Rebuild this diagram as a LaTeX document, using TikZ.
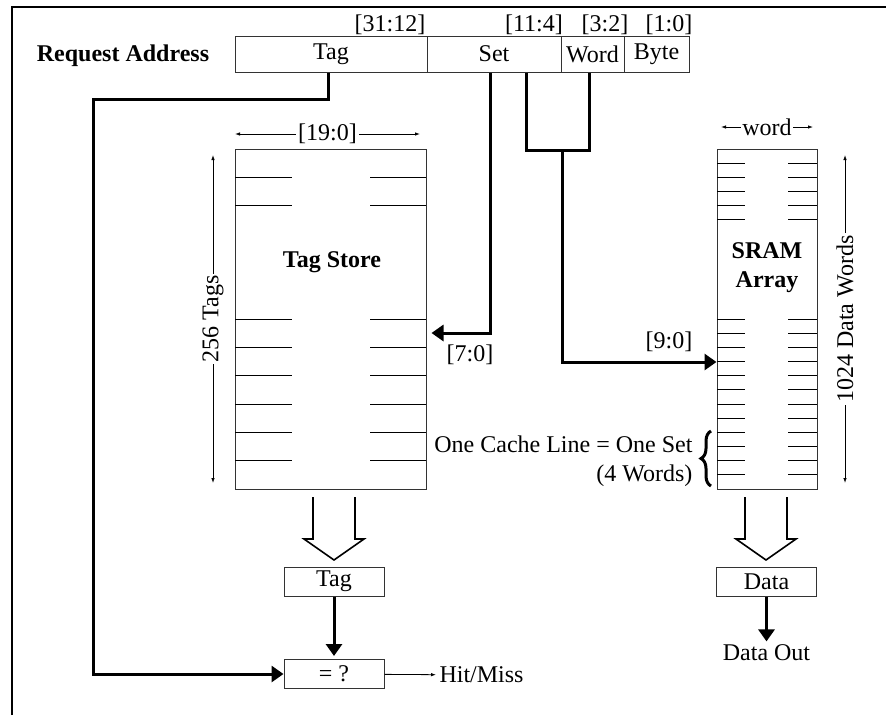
\documentclass[tikz,border=0pt]{standalone}
\usepackage{fontspec}
\setmainfont{Liberation Serif}
\usetikzlibrary{arrows.meta,decorations.pathreplacing}

\begin{document}
\begin{tikzpicture}[x=1pt,y=-1pt,font=\fontsize{24}{29}\selectfont,>=Latex]
\tikzset{
  field/.style={draw=black!80,line width=1pt,minimum height=36pt,inner sep=0pt},
  store/.style={draw=black!80,line width=1pt,minimum width=#1,minimum height=340pt,inner sep=0pt},
  outbox/.style={draw=black!80,line width=1pt,minimum width=100pt,minimum height=29pt,inner sep=0pt},
  bold/.style={font=\bfseries\fontsize{24}{29}\selectfont,align=center},
  wire/.style={line width=3pt,-{Triangle[length=12pt,width=16pt]}},
  dim/.style={line width=0.8pt,{Latex[length=5pt,width=3.5pt]}-{Latex[length=5pt,width=3.5pt]}},
  thinarrow/.style={line width=0.8pt,-{Latex[length=5pt,width=3.5pt]}},
  gap/.style={fill=white,inner sep=2pt},
  stub/.style={line width=0.9pt},
  fat/.style={line width=1.6pt,line join=miter},
  brace/.style={decorate,decoration={brace,amplitude=10pt},line width=3pt}
}
\useasboundingbox (0,0) rectangle (886,715);

% ---------- frame --------------------------------------------------------
\draw[line width=2.5pt] (12,715) -- (12,7) -- (886,7);

% ---------- request address ----------------------------------------------
\node[bold] (reqlbl) at (123,56) {Request Address};
\node[field,minimum width=192pt] (tagf)  at (331,54)   {Tag};
\node[field,minimum width=134pt] (setf)  at (494,54)   {Set};
\node[field,minimum width=63pt]  (wordf) at (592.5,54) {Word};
\node[field,minimum width=65pt]  (bytef) at (656.5,54) {Byte};

\node (b3112) at (390,25) {[31:12]};
\node (b114)  at (534,25) {[11:4]};
\node (b32)   at (605,25) {[3:2]};
\node (b10)   at (669,25) {[1:0]};

% ---------- tag store ----------------------------------------------------
\node[store=191pt] (tagstore) at (330.5,319) {};
\node[bold] (taglbl) at (332,262) {Tag Store};
\foreach \k [evaluate=\k as \yy using 149+28.333*\k] in {1,2,6,7,8,9,10,11}
  \draw[stub] (235,\yy) -- (292,\yy) (370,\yy) -- (426,\yy);

\draw[dim] (235,134) -- (420,134) node[gap,pos=0.5] (tagwidth) {[19:0]};
\draw[dim] (213,155) -- (213,483) node[gap,pos=0.5,rotate=90] (tagcount) {256 Tags};

% ---------- SRAM array ---------------------------------------------------
\node[store=100pt] (sram) at (767,319) {};
\node[bold] (sramlbl) at (767,268) {SRAM\\Array};
\foreach \k [evaluate=\k as \yy using 149+14.1667*\k] in {1,...,5,12,13,...,23}
  \draw[stub] (717,\yy) -- (745,\yy) (788,\yy) -- (817,\yy);

\draw[dim] (721,127) -- (813,127) node[gap,pos=0.5,inner sep=1pt] (wordwidth) {word};
\draw[dim] (845,155) -- (845,483) node[gap,pos=0.5,rotate=90] (wordcount) {1024 Data Words};

\draw[brace] (711,486) -- (711,431);
\node[align=right,anchor=east] (linelbl) at (696,461) {One Cache Line = One Set\\(4 Words)};

% ---------- outputs ------------------------------------------------------
\draw[fat] (313,497) -- (313,539) -- (304,539) -- (334,560) -- (364,539) -- (355,539) -- (355,497);
\draw[fat] (745,497) -- (745,539) -- (736,539) -- (766,560) -- (796,539) -- (787,539) -- (787,497);

\node[outbox] (tagout)  at (334,581.5) {Tag};
\node[outbox] (cmp)     at (334,674)   {= ?};
\node[outbox] (dataout) at (766.5,581.5) {Data};
\node (dout) at (766.5,653) {Data Out};
\node[anchor=west] (hit) at (436,675) {Hit/Miss};

\draw[wire,shorten >=3pt] (tagout) -- (cmp);
\draw[wire] (dataout) -- (dout);
\draw[thinarrow] (cmp) -- (hit);

% ---------- index wires --------------------------------------------------
\coordinate (tagbend) at (93,99);
\draw[wire] ([xshift=-3pt]tagf.south) |- (tagbend) |- (cmp.west);

\coordinate (sidx) at (490,333);
\draw[wire,shorten >=5pt] ([xshift=-4pt]setf.south) -- (sidx) -- (sidx -| tagstore.east);
\node (setbits) at (470,355) {[7:0]};

\coordinate (wjoin) at (562,150);
\coordinate (widx) at (562,362);
\draw[wire,-,line join=miter] ([xshift=32pt]setf.south) |- (wjoin) -| ([xshift=-3.5pt]wordf.south);
\draw[wire] (wjoin) -- (widx) -- (widx -| sram.west);
\node (wordbits) at (669,342) {[9:0]};
\end{tikzpicture}
\end{document}
